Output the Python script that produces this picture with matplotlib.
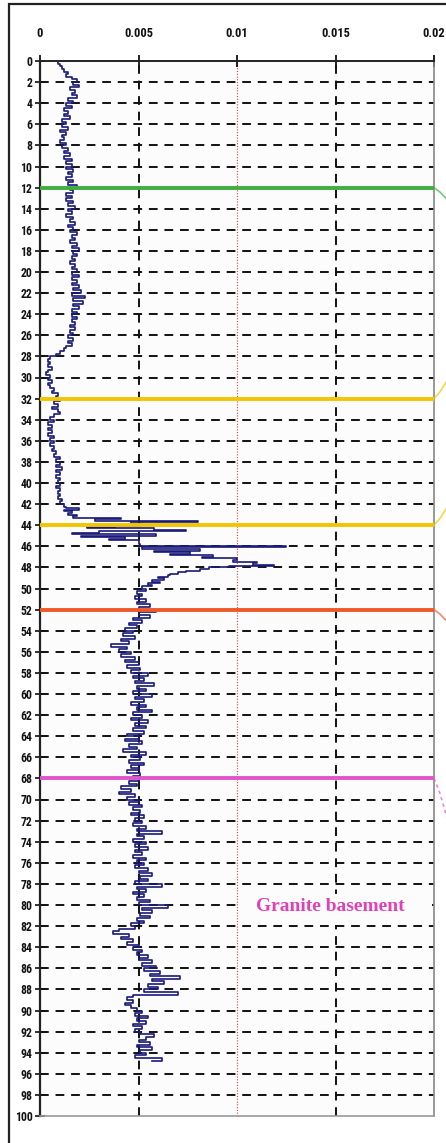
import matplotlib
matplotlib.use("Agg")
import numpy as np
import matplotlib.pyplot as plt
from matplotlib.patches import Rectangle
from matplotlib import font_manager
from matplotlib.transforms import ScaledTranslation

# ---- data (depth in m, value read from the log) ----
# upper section, sampled every 0.25 m from 0 to 27.75 m
depth_upper = np.arange(0, 28, 0.25)
value_upper = [0.0009, 0.0010, 0.0011, 0.0012,
               0.0014, 0.0013, 0.0016, 0.0019,
               0.0017, 0.0020, 0.0015, 0.0018,
               0.0016, 0.0019, 0.0014, 0.0017,
               0.0013, 0.0016, 0.0012, 0.0014,
               0.0012, 0.0015, 0.0011, 0.0013,
               0.0011, 0.0014, 0.0010, 0.0013,
               0.0011, 0.0012, 0.0010, 0.0013,
               0.0011, 0.0014, 0.0012, 0.0015,
               0.0012, 0.0016, 0.0013, 0.0016,
               0.0013, 0.0017, 0.0014, 0.0016,
               0.0013, 0.0017, 0.0014, 0.0019,
               0.0015, 0.0017, 0.0013, 0.0016,
               0.0013, 0.0017, 0.0014, 0.0018,
               0.0014, 0.0016, 0.0013, 0.0017,
               0.0015, 0.0018, 0.0014, 0.0017,
               0.0015, 0.0019, 0.0016, 0.0018,
               0.0015, 0.0019, 0.0016, 0.0020,
               0.0017, 0.0019, 0.0016, 0.0018,
               0.0015, 0.0018, 0.0016, 0.0019,
               0.0016, 0.0020, 0.0016, 0.0019,
               0.0016, 0.0020, 0.0017, 0.0021,
               0.0016, 0.0023, 0.0017, 0.0022,
               0.0017, 0.0020, 0.0016, 0.0019,
               0.0016, 0.0019, 0.0016, 0.0018,
               0.0015, 0.0018, 0.0015, 0.0017,
               0.0014, 0.0017, 0.0014, 0.0016,
               0.0013, 0.0012, 0.0010, 0.0008]

# low section, 28.00 - 41.75 m every 0.25 m
depth_low = np.arange(28, 42, 0.25)
value_low = [0.0005, 0.0004, 0.0005, 0.0004,
             0.0006, 0.0004, 0.0003, 0.0005,
             0.0004, 0.0006, 0.0004, 0.0005,
             0.0007, 0.0006, 0.0009, 0.0008,
             0.0010, 0.0007, 0.0009, 0.0006,
             0.0009, 0.0010, 0.0007, 0.0005,
             0.0007, 0.0004, 0.0006, 0.0004,
             0.0006, 0.0004, 0.0007, 0.0005,
             0.0007, 0.0005, 0.0007, 0.0006,
             0.0008, 0.0007, 0.0010, 0.0008,
             0.0010, 0.0008, 0.0011, 0.0008,
             0.0010, 0.0008, 0.0010, 0.0009,
             0.0010, 0.0008, 0.0010, 0.0009,
             0.0010, 0.0009, 0.0011, 0.0010]

# anomaly zone, irregular sampling 42.00 - 52.75 m
depth_anom = [42.00, 42.25, 42.40, 42.55, 42.70, 42.85, 43.00, 43.15, 43.30, 43.45,
              43.60, 43.70, 43.85, 44.00, 44.10, 44.20, 44.30, 44.45, 44.55, 44.70,
              44.85, 45.00, 45.15, 45.30, 45.45, 45.60, 45.80, 46.00, 46.10, 46.25,
              46.40, 46.55, 46.70, 46.85, 47.00, 47.15, 47.30, 47.45, 47.60, 47.75,
              47.90, 48.00, 48.15, 48.30, 48.45, 48.60, 48.75, 48.90, 49.05, 49.20,
              49.35, 49.50, 49.65, 49.80, 50.00, 50.25, 50.50, 50.75, 51.00, 51.25,
              51.50, 51.75, 52.00, 52.25, 52.50, 52.75]
value_anom = [0.0012, 0.0013, 0.0020, 0.0012, 0.0016, 0.0014, 0.0019, 0.0017, 0.0041, 0.0028,
              0.0080, 0.0046, 0.0052, 0.0051, 0.0038, 0.0024, 0.0058, 0.0074, 0.0030, 0.0016,
              0.0059, 0.0021, 0.0043, 0.0035, 0.0050, 0.0050, 0.0051, 0.0125, 0.0052, 0.0081,
              0.0058, 0.0076, 0.0066, 0.0088, 0.0082, 0.0100, 0.0098, 0.0110, 0.0108, 0.0119,
              0.0096, 0.0086, 0.0081, 0.0074, 0.0070, 0.0066, 0.0065, 0.0060, 0.0063, 0.0057,
              0.0061, 0.0055, 0.0057, 0.0052, 0.0054, 0.0049, 0.0052, 0.0048, 0.0054, 0.0049,
              0.0056, 0.0050, 0.0059, 0.0050, 0.0056, 0.0047]

# deep section, 53.00 - 94.75 m every 0.25 m
depth_deep = np.arange(53, 95, 0.25)
value_deep = [0.0052, 0.0045, 0.0049, 0.0043,
              0.0047, 0.0042, 0.0048, 0.0041,
              0.0045, 0.0036, 0.0044, 0.0040,
              0.0046, 0.0041, 0.0048, 0.0043,
              0.0050, 0.0044, 0.0051, 0.0046,
              0.0055, 0.0047, 0.0053, 0.0048,
              0.0058, 0.0049, 0.0054, 0.0047,
              0.0057, 0.0048, 0.0053, 0.0046,
              0.0054, 0.0049, 0.0057, 0.0047,
              0.0052, 0.0046, 0.0055, 0.0048,
              0.0054, 0.0047, 0.0053, 0.0044,
              0.0050, 0.0043, 0.0052, 0.0045,
              0.0049, 0.0042, 0.0054, 0.0046,
              0.0051, 0.0045, 0.0053, 0.0046,
              0.0050, 0.0044, 0.0051, 0.0047,
              0.0050, 0.0045, 0.0049, 0.0041,
              0.0046, 0.0040, 0.0048, 0.0044,
              0.0050, 0.0045, 0.0052, 0.0047,
              0.0051, 0.0046, 0.0053, 0.0048,
              0.0052, 0.0047, 0.0054, 0.0049,
              0.0062, 0.0049, 0.0053, 0.0047,
              0.0054, 0.0048, 0.0055, 0.0048,
              0.0052, 0.0047, 0.0054, 0.0049,
              0.0053, 0.0048, 0.0055, 0.0050,
              0.0057, 0.0051, 0.0055, 0.0048,
              0.0062, 0.0049, 0.0054, 0.0047,
              0.0053, 0.0049, 0.0056, 0.0050,
              0.0065, 0.0052, 0.0057, 0.0051,
              0.0056, 0.0049, 0.0053, 0.0046,
              0.0048, 0.0040, 0.0037, 0.0045,
              0.0041, 0.0047, 0.0044, 0.0050,
              0.0047, 0.0052, 0.0049, 0.0055,
              0.0050, 0.0057, 0.0052, 0.0059,
              0.0053, 0.0061, 0.0056, 0.0071,
              0.0057, 0.0063, 0.0055, 0.0060,
              0.0053, 0.0070, 0.0047, 0.0044,
              0.0047, 0.0043, 0.0046, 0.0049,
              0.0052, 0.0048, 0.0055, 0.0049,
              0.0054, 0.0047, 0.0052, 0.0048,
              0.0051, 0.0058, 0.0054, 0.0050,
              0.0056, 0.0049, 0.0057, 0.0051,
              0.0054, 0.0048, 0.0062, 0.0057]

boundary_depths = [12, 32, 44, 52, 68]
boundary_colors = ["#3fae3f", "#f2c500", "#f2c500", "#ee5a2a", "#e055cc"]

x_ticks = [0, 0.005, 0.01, 0.015, 0.02]
x_tick_labels = ["0", "0.005", "0.01", "0.015", "0.02"]
y_ticks = list(range(0, 101, 2))
annotation_text = "Granite basement"

depth = np.concatenate([depth_upper, depth_low, depth_anom, depth_deep])
value = np.concatenate([value_upper, value_low, value_anom, value_deep])

# ---- fonts ----
avail = {f.name for f in font_manager.fontManager.ttflist}
tick_font = "DejaVu Sans"
for cand in ["Liberation Sans Narrow", "DejaVu Sans Condensed", "Roboto Condensed",
             "Open Sans Condensed"]:
    if cand in avail:
        tick_font = cand
        break

W, H = 446, 1143
fig = plt.figure(figsize=(W / 100, H / 100), dpi=100)
fig.patch.set_facecolor("white")

# outer frame
fig.patches.append(Rectangle((9 / W, -0.01), 1.2, 1 - 4 / H + 0.01, transform=fig.transFigure,
                             fill=False, edgecolor="#222222", linewidth=1.6, zorder=0))

ax = fig.add_axes([40 / W, 1 - 1116 / H, (434 - 40) / W, (1116 - 61) / H])
ax.set_facecolor("#fcfcfc")
ax.set_xlim(0, 0.02)
ax.set_ylim(100, 0)

# grid lines
for d in y_ticks[1:-1]:
    ax.axhline(d, color="#111111", linewidth=1.4, linestyle=(0, (4.5, 3.5)), zorder=1)
for xv in [0.005, 0.015]:
    ax.axvline(xv, color="#111111", linewidth=1.4, linestyle=(0, (4.5, 3.5)), zorder=1)
ax.axvline(0.01, color="#e04040", linewidth=0.8, linestyle=(0, (1, 1.5)), zorder=1)

# label box covering the grid
ax.add_patch(Rectangle((0.0101, 79.0), 0.0098, 2.9, facecolor="#fcfcfc", edgecolor="none",
                       zorder=2))
ax.text(0.01475, 80.1, annotation_text, color="#e040b8", fontsize=14, fontweight="bold",
        family=["Liberation Serif", "DejaVu Serif"], ha="center", va="center", zorder=3)

# curve
ax.plot(value, depth, color="#1a1a7a", linewidth=1.2, zorder=4, drawstyle="steps-pre")

# boundaries with leader ticks outside the axes
leader_dirs = [1.2, -1.8, -1.8, 1.2, 4]
for d, c, ld in zip(boundary_depths, boundary_colors, leader_dirs):
    ax.plot([0, 0.02], [d, d], color=c, linewidth=2.8, zorder=5, solid_capstyle="butt")
    ls = "-" if ld < 3 else (0, (2, 2))
    ax.plot([0.02, 0.0203, 0.0207], [d, d + ld * 0.35, d + ld], color=c, linewidth=1.2,
            alpha=0.7, linestyle=ls, clip_on=False, zorder=5)

# spines
ax.spines["top"].set_color("#222222")
ax.spines["top"].set_linewidth(1.4)
ax.spines["left"].set_color("#222222")
ax.spines["left"].set_linewidth(1.6)
ax.spines["right"].set_color("#888888")
ax.spines["right"].set_linewidth(1.2)
ax.spines["bottom"].set_color("#999999")
ax.spines["bottom"].set_linewidth(1.2)

ax.xaxis.tick_top()
ax.set_xticks(x_ticks)
ax.set_xticklabels(x_tick_labels)
ax.set_yticks(y_ticks)
ax.set_yticklabels([str(t) for t in y_ticks])
ax.tick_params(axis="x", which="both", direction="inout", length=8, width=1.3, pad=11,
               labelsize=9, colors="#111111", bottom=False, top=True)
ax.tick_params(axis="y", direction="inout", length=7, width=1.2, pad=2, labelsize=8.5,
               colors="#111111")
for lab in ax.get_xticklabels() + ax.get_yticklabels():
    lab.set_family(tick_font)
    lab.set_fontweight("bold")

# keep the last top label inside the picture
last = ax.get_xticklabels()[-1]
last.set_horizontalalignment("right")
last.set_transform(last.get_transform() + ScaledTranslation(11 / 100, 0, fig.dpi_scale_trans))

fig.savefig("out.png", dpi=100, facecolor="white")
